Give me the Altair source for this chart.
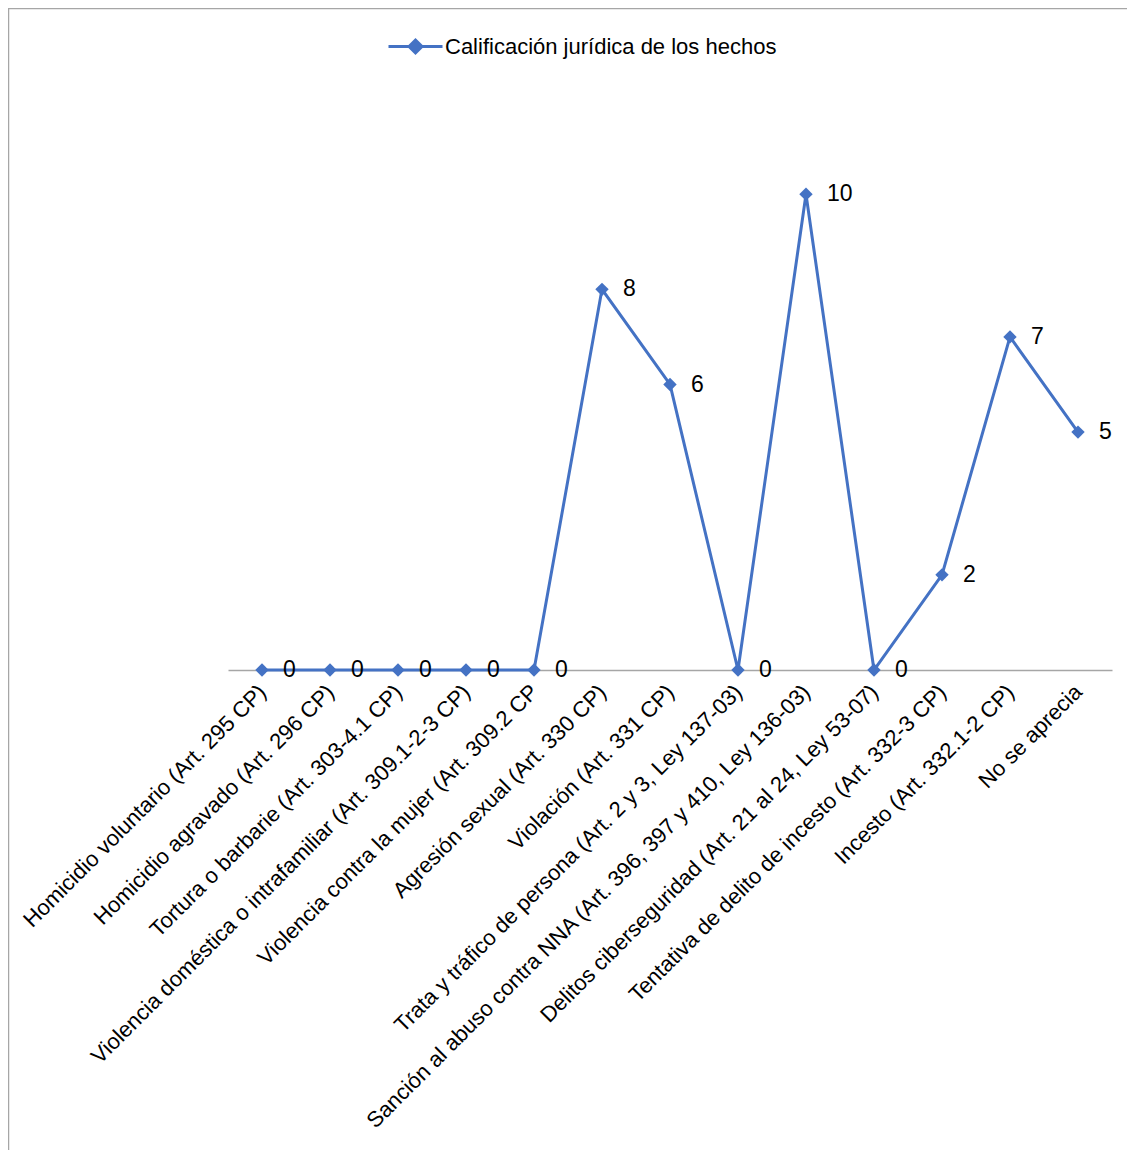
import altair as alt
import pandas as pd

categorias = [
    "Homicidio voluntario (Art. 295 CP)",
    "Homicidio agravado (Art. 296 CP)",
    "Tortura o barbarie (Art. 303-4.1 CP)",
    "Violencia doméstica o intrafamiliar (Art. 309.1-2-3 CP)",
    "Violencia contra la mujer (Art. 309.2 CP",
    "Agresión sexual (Art. 330 CP)",
    "Violación (Art. 331 CP)",
    "Trata y tráfico de persona (Art. 2 y 3, Ley 137-03)",
    "Sanción al abuso contra NNA (Art. 396, 397 y 410, Ley 136-03)",
    "Delitos ciberseguridad (Art. 21 al 24, Ley 53-07)",
    "Tentativa de delito de incesto (Art. 332-3 CP)",
    "Incesto (Art. 332.1-2 CP)",
    "No se aprecia",
]
valores = [0, 0, 0, 0, 0, 8, 6, 0, 10, 0, 2, 7, 5]
serie = "Calificación jurídica de los hechos"

df = pd.DataFrame({"cat": categorias, "val": valores, "serie": [serie] * len(categorias)})

FONT = "Liberation Sans Narrow, Arial Narrow, Liberation Sans, Arial, sans-serif"
BLUE = "#4472C4"

W, H = 884, 571
PAD = {"left": 220, "top": 91, "right": 15, "bottom": 480}

xenc = alt.X(
    "cat:N",
    sort=categorias,
    scale=alt.Scale(type="point", padding=0.5),
    axis=alt.Axis(
        title=None,
        labelAngle=-45,
        labelAlign="right",
        labelBaseline="middle",
        labelFont=FONT,
        labelFontSize=22,
        labelColor="#000000",
        labelLimit=2000,
        labelPadding=18,
        labelOverlap=False,
        ticks=False,
        domainColor="#A6A6A6",
        domainWidth=1.5,
        grid=False,
    ),
)
yenc = alt.Y("val:Q", scale=alt.Scale(domain=[0, 12]), axis=None)

base = alt.Chart(df)

line = base.mark_line(strokeWidth=3, color=BLUE).encode(
    x=xenc,
    y=yenc,
    color=alt.Color(
        "serie:N",
        scale=alt.Scale(range=[BLUE]),
        legend=alt.Legend(
            title=None,
            orient="none",
            legendX=159,
            legendY=-81,
            symbolType="M-1,0H1M-0.24,0L0,-0.24L0.24,0L0,0.24Z",
            symbolSize=2916,
            symbolStrokeWidth=3,
            symbolFillColor=BLUE,
            labelFont=FONT,
            labelFontSize=22,
            labelColor="#000000",
            labelOffset=1,
            labelLimit=1000,
        ),
    ),
)

points = base.mark_point(shape="diamond", size=180, filled=True, color=BLUE, opacity=1).encode(
    x=xenc, y=yenc
)

labels = base.mark_text(
    align="left", baseline="middle", dx=21, font=FONT, fontSize=23, color="#000000"
).encode(x=xenc, y=yenc, text="val:Q")

border = alt.Chart(pd.DataFrame({"a": [0]})).mark_rect(
    fill=None, stroke="#A6A6A6", strokeWidth=1.5
).encode(
    x=alt.value(-219.5), x2=alt.value(940), y=alt.value(-90.5), y2=alt.value(1080)
)

chart = alt.layer(border, line, points, labels).properties(
    width=W,
    height=H,
    padding=PAD,
    autosize=alt.AutoSizeParams(type="none"),
).configure_view(stroke=None)

chart.save("out.html", embed_options={"renderer": "svg", "actions": False})
